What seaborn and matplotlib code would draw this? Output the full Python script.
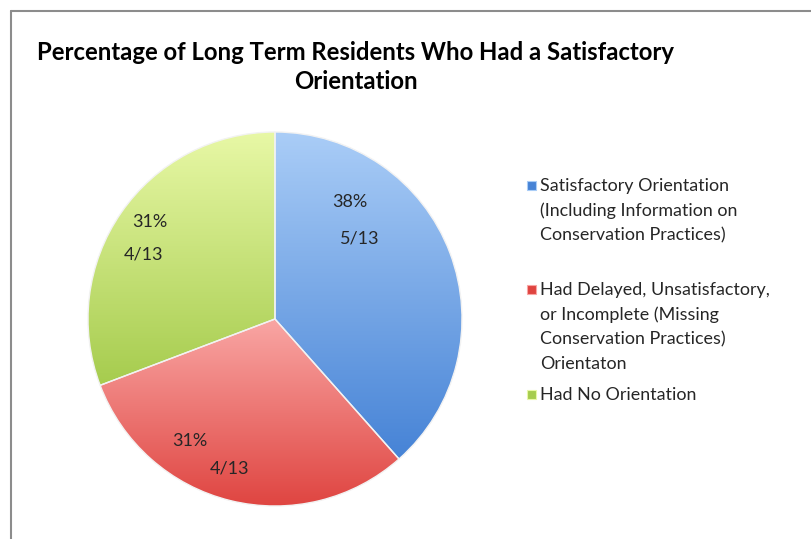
import numpy as np
import matplotlib
matplotlib.use("Agg")
import matplotlib.pyplot as plt
from matplotlib.colors import LinearSegmentedColormap
from matplotlib.patches import Rectangle
from matplotlib.lines import Line2D
import seaborn as sns

# ---- data ----
categories = [
    "Satisfactory Orientation\n(Including Information on\nConservation Practices)",
    "Had Delayed, Unsatisfactory,\nor Incomplete (Missing\nConservation Practices)\nOrientaton",
    "Had No Orientation",
]
counts = [5, 4, 4]
pct_labels = ["38%", "31%", "31%"]
frac_labels = ["5/13", "4/13", "4/13"]
title = "Percentage of Long Term Residents Who Had a Satisfactory\nOrientation"

# ---- style ----
sns.set_theme(style="white")
plt.rcParams['font.family'] = ['Lato', 'DejaVu Sans']

light = ["#aacdf7", "#f9a6a4", "#e8f8a6"]
dark = ["#4683d6", "#df4440", "#a6cc4e"]

fig = plt.figure(figsize=(8.12, 5.39), dpi=100)
fig.patch.set_facecolor("white")

# border lines (top & left)
fig.add_artist(Line2D([11/812, 11/812], [0, 1 - 11/539], color="#8c8c8c", lw=1.5, transform=fig.transFigure))
fig.add_artist(Line2D([11/812, 1], [1 - 11/539, 1 - 11/539], color="#8c8c8c", lw=1.5, transform=fig.transFigure))

# pie axes
cx, cy, R = 275, 319, 187
ax = fig.add_axes([(cx - R) / 812, (539 - cy - R) / 539, 2 * R / 812, 2 * R / 539])
wedges, _ = ax.pie(counts, startangle=90, counterclock=False, radius=1,
                   colors=light, wedgeprops=dict(edgecolor="#f2f2f2", linewidth=1.0))
ax.set_xlim(-1, 1)
ax.set_ylim(-1, 1)
ax.set_aspect("equal")
ax.axis("off")

grad = np.linspace(1, 0, 256).reshape(-1, 1)
for w, lc, dc in zip(wedges, light, dark):
    cmap = LinearSegmentedColormap.from_list("g", [dc, lc])
    path = w.get_path()
    verts = w.get_transform().transform(path.vertices)
    dverts = ax.transData.inverted().transform(verts)
    ymin, ymax = dverts[:, 1].min(), dverts[:, 1].max()
    xmin, xmax = dverts[:, 0].min(), dverts[:, 0].max()
    im = ax.imshow(grad, cmap=cmap, extent=[xmin, xmax, ymin, ymax],
                   aspect="auto", origin="upper", zorder=1, interpolation="bicubic")
    im.set_clip_path(w)
    w.set_facecolor("none")
    w.set_zorder(2)
ax.set_xlim(-1, 1)
ax.set_ylim(-1, 1)

# data labels (px positions relative to pie)
label_pos = [((350, 202), (360, 238)), ((190, 441), (229, 469)), ((150, 222), (143, 255))]
for (p1, p2), a, b in zip(label_pos, pct_labels, frac_labels):
    for (px, py), s in ((p1, a), (p2, b)):
        ax.text((px - cx) / R, (cy - py) / R, s, ha="center", va="center",
                fontsize=13, color="#262626", zorder=5)

# title
fig.text(356 / 812, 1 - 67 / 539, title, ha="center", va="center", fontsize=17.2,
         fontweight="bold", color="#000000", linespacing=1.3)

# legend
leg_y = [185, 289, 394]
for yy, lab, lc, dc in zip(leg_y, categories, light, dark):
    rect = Rectangle((527 / 812, 1 - (yy + 5) / 539), 9 / 812, 9 / 539,
                     transform=fig.transFigure, facecolor=dc, edgecolor=lc, lw=0.8)
    fig.add_artist(rect)
    fig.text(540 / 812, 1 - (yy - 7) / 539, lab, ha="left", va="top", fontsize=12.9,
             color="#262626", linespacing=1.64)

fig.savefig("out.png", dpi=100)
